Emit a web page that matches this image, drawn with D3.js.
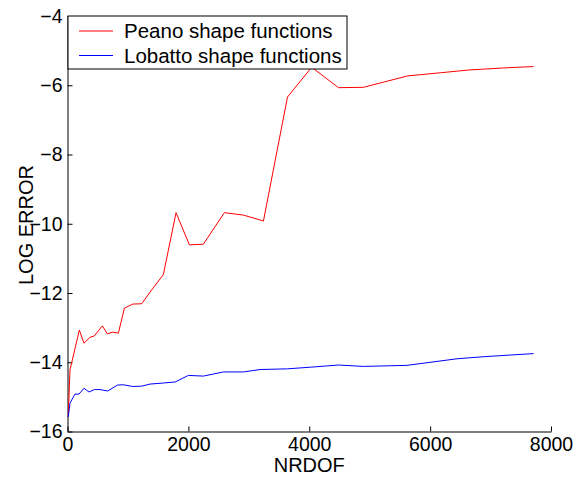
<!DOCTYPE html>
<html>
<head>
<meta charset="utf-8"/>
<style>
  body { margin: 0; background: white; }
  svg text { font-family: "Liberation Sans", Arial, sans-serif; fill: black; }
</style>
</head>
<body>
<svg id="chart" width="586" height="477"></svg>
<script src="https://d3js.org/d3.v7.min.js"></script>
<script>
// --- data ---
const peanoDof = [13, 41, 196, 273, 372, 444, 577, 660, 742, 842, 941, 1079, 1228, 1393, 1586,
                  1796, 2017, 2248, 2596, 2911, 3242, 3640, 4040, 4484, 4897, 5630, 6167, 6636, 7215, 7712];
const peanoErr = [-15.55, -14.22, -13.07, -13.45, -13.28, -13.24, -12.95, -13.18, -13.13, -13.16, -12.44, -12.32, -12.31, -11.91, -11.47,
                  -9.68, -10.61, -10.59, -9.68, -9.75, -9.92, -6.34, -5.48, -6.07, -6.06, -5.73, -5.64, -5.56, -5.50, -5.46];

const lobattoDof = [13, 41, 124, 190, 273, 356, 444, 538, 665, 825, 924, 1079, 1228, 1366, 1586, 1780,
                    2000, 2248, 2580, 2911, 3187, 3640, 4040, 4484, 4897, 5616, 6444, 6884, 7712];
const lobattoErr = [-15.58, -15.18, -14.92, -14.92, -14.75, -14.86, -14.79, -14.79, -14.83, -14.66, -14.65, -14.70, -14.69, -14.63, -14.60, -14.57,
                    -14.38, -14.40, -14.28, -14.28, -14.21, -14.19, -14.14, -14.08, -14.12, -14.09, -13.90, -13.84, -13.75];

const xTicks = [0, 2000, 4000, 6000, 8000];
const yTicks = [-16, -14, -12, -10, -8, -6, -4];
const seriesNames = ["Peano shape functions", "Lobatto shape functions"];
const seriesColors = ["#ff0000", "#0000ff"];

// --- layout ---
const svg = d3.select("#chart");
const plotL = 67.5, plotR = 551, plotT = 16, plotB = 431.5;

const x = d3.scaleLinear().domain([0, 8000]).range([plotL, plotR]);
const y = d3.scaleLinear().domain([-16, -4]).range([plotB, plotT]);

// axes (matlab style: ticks point inward)
const xAxis = svg.append("g")
  .attr("transform", `translate(0,${plotB})`)
  .call(d3.axisBottom(x).tickValues(xTicks).tickFormat(d3.format("d"))
    .tickSizeInner(-5).tickSizeOuter(0).tickPadding(6));
const yAxis = svg.append("g")
  .attr("transform", `translate(${plotL},0)`)
  .call(d3.axisLeft(y).tickValues(yTicks).tickFormat(d3.format("d"))
    .tickSizeInner(-5).tickSizeOuter(0).tickPadding(5));

[xAxis, yAxis].forEach(a => {
  a.selectAll("text").style("font-size", "19.5px").attr("fill", "black");
  a.selectAll("line").attr("stroke", "black");
  a.select(".domain").attr("stroke", "black");
});
xAxis.selectAll("text").attr("dy", "0.7em");

// lines
const line = d3.line().x(d => x(d[0])).y(d => y(d[1]));
const peano = d3.zip(peanoDof, peanoErr);
const lobatto = d3.zip(lobattoDof, lobattoErr);

svg.append("path").datum(peano)
  .attr("d", line).attr("fill", "none")
  .attr("stroke", seriesColors[0]).attr("stroke-width", 1);
svg.append("path").datum(lobatto)
  .attr("d", line).attr("fill", "none")
  .attr("stroke", seriesColors[1]).attr("stroke-width", 1);

// axis labels
svg.append("text")
  .attr("x", (plotL + plotR) / 2).attr("y", 472)
  .attr("text-anchor", "middle")
  .style("font-size", "20px")
  .text("NRDOF");

svg.append("text")
  .attr("transform", "translate(33,225) rotate(-90)")
  .attr("text-anchor", "middle")
  .style("font-size", "20px")
  .text("LOG ERROR");

// legend
const legend = svg.append("g");
legend.append("rect")
  .attr("x", 68).attr("y", 16).attr("width", 279).attr("height", 53)
  .attr("fill", "white").attr("stroke", "black").attr("stroke-width", 1);

seriesNames.forEach((name, i) => {
  const ly = 31 + i * 24.5;
  legend.append("line")
    .attr("x1", 79).attr("x2", 113).attr("y1", ly).attr("y2", ly)
    .attr("stroke", seriesColors[i]).attr("stroke-width", 1);
  legend.append("text")
    .attr("x", 124).attr("y", ly + 7)
    .style("font-size", "20.5px")
    .text(name);
});
</script>
</body>
</html>
